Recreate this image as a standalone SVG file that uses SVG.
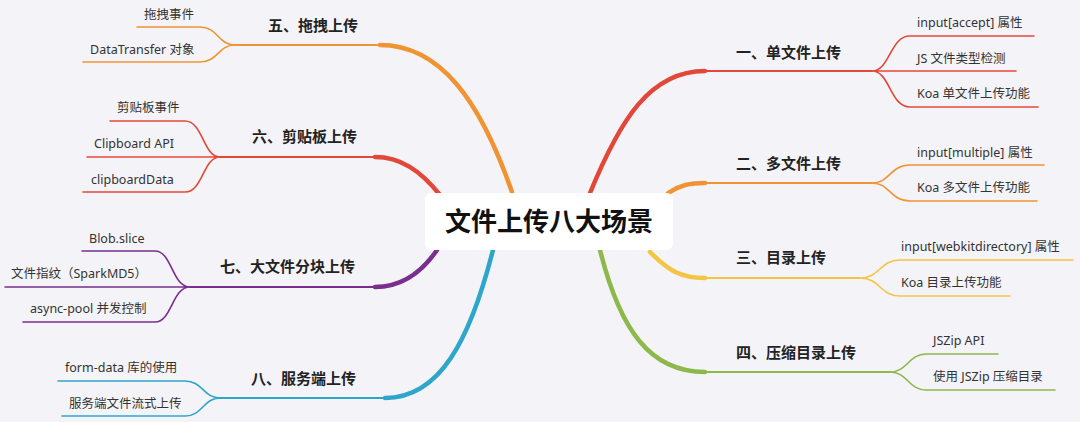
<svg xmlns="http://www.w3.org/2000/svg" width="1080" height="422" viewBox="0 0 1080 422">
<style>
.l1{font-family:"Noto Sans","Noto Sans CJK SC",sans-serif;font-size:15px;font-weight:bold;fill:#222}
.l2{font-family:"Noto Sans","Noto Sans CJK SC",sans-serif;font-size:12.5px;fill:#333}
.c{fill:none;stroke-linecap:round}
.t{stroke-width:4.5}
.m{stroke-width:2}
.s{stroke-width:1.6}
.red{stroke:#e2483a}.org{stroke:#f09332}.yel{stroke:#f4c445}.grn{stroke:#8cb84c}.blu{stroke:#2ea5cb}.pur{stroke:#7a2e8e}
</style>
<rect width="1080" height="422" fill="#f4f4f8"/>
<g id="connectors">
<path class="c t red" d="M590,193 C620,120 650,71 705,71"/>
<path class="c m red" d="M700,71 H872"/>
<path class="c s red" d="M872,71 C890,71 890,36 910,36 H1034 M872,71 H1016 M872,71 C890,71 890,107 910,107 H1038"/>
<path class="c t org" d="M668,193 C680,185 690,183 705,183"/>
<path class="c m org" d="M700,183 H872"/>
<path class="c s org" d="M872,183 C890,183 890,165 910,165 H1044 M872,183 C890,183 890,201 910,201 H1037"/>
<path class="c t yel" d="M650,252 C668,270 680,278 705,278"/>
<path class="c m yel" d="M700,278 H860"/>
<path class="c s yel" d="M860,278 C880,278 880,260 900,260 H1073 M860,278 C880,278 880,296 900,296 H1010"/>
<path class="c t grn" d="M600,250 C620,330 650,372 705,372"/>
<path class="c m grn" d="M700,372 H890"/>
<path class="c s grn" d="M890,372 C908,372 908,354 926,354 H998 M890,372 C908,372 908,390 926,390 H1055"/>
<path class="c t org" d="M512,192 C480,100 440,45 380,45"/>
<path class="c m org" d="M385,45 H235"/>
<path class="c s org" d="M235,45 C218,45 218,27 200,27 H137 M235,45 C218,45 218,62 200,62 H83"/>
<path class="c t red" d="M440,195 C420,170 400,157 375,157"/>
<path class="c m red" d="M380,157 H220"/>
<path class="c s red" d="M220,157 C203,157 203,121 185,121 H110 M220,157 H87 M220,157 C203,157 203,192 185,192 H83"/>
<path class="c t pur" d="M437,250 C420,275 400,287 375,287"/>
<path class="c m pur" d="M380,287 H190"/>
<path class="c s pur" d="M190,287 C172,287 172,251 155,251 H82 M190,287 H5 M190,287 C172,287 172,322 155,322 H23"/>
<path class="c t blu" d="M493,250 C470,340 440,398 385,398"/>
<path class="c m blu" d="M390,398 H220"/>
<path class="c s blu" d="M220,398 C203,398 203,381 185,381 H58 M220,398 C203,398 203,416 185,416 H62"/>
</g>
<g id="center"><rect x="425" y="193" width="248" height="57" rx="6" fill="#fff"/>
<text x="549" y="231" text-anchor="middle" style="font-family:'Noto Sans CJK SC',sans-serif;font-size:26px;font-weight:bold;fill:#111">文件上传八大场景</text></g>
<g id="n1"><text class="l1" x="736" y="58">一、单文件上传</text>
<text class="l2" x="917" y="27">input[accept] 属性</text><text class="l2" x="917" y="63">JS 文件类型检测</text><text class="l2" x="917" y="98">Koa 单文件上传功能</text></g>
<g id="n2"><text class="l1" x="736" y="169">二、多文件上传</text>
<text class="l2" x="917" y="157">input[multiple] 属性</text><text class="l2" x="917" y="192">Koa 多文件上传功能</text></g>
<g id="n3"><text class="l1" x="736" y="263">三、目录上传</text>
<text class="l2" x="901" y="251">input[webkitdirectory] 属性</text><text class="l2" x="901" y="287">Koa 目录上传功能</text></g>
<g id="n4"><text class="l1" x="736" y="358">四、压缩目录上传</text>
<text class="l2" x="933" y="345">JSZip API</text><text class="l2" x="933" y="381">使用 JSZip 压缩目录</text></g>
<g id="n5"><text class="l1" x="268" y="31">五、拖拽上传</text>
<text class="l2" x="144" y="19">拖拽事件</text><text class="l2" x="90" y="54">DataTransfer 对象</text></g>
<g id="n6"><text class="l1" x="252" y="142">六、剪贴板上传</text>
<text class="l2" x="117" y="112">剪贴板事件</text><text class="l2" x="94" y="148">Clipboard API</text><text class="l2" x="91" y="184">clipboardData</text></g>
<g id="n7"><text class="l1" x="220" y="272">七、大文件分块上传</text>
<text class="l2" x="89" y="243">Blob.slice</text><text class="l2" x="11" y="278">文件指纹（SparkMD5）</text><text class="l2" x="30" y="313">async-pool 并发控制</text></g>
<g id="n8"><text class="l1" x="251" y="384">八、服务端上传</text>
<text class="l2" x="65" y="372">form-data 库的使用</text><text class="l2" x="69" y="408">服务端文件流式上传</text></g>
</svg>
